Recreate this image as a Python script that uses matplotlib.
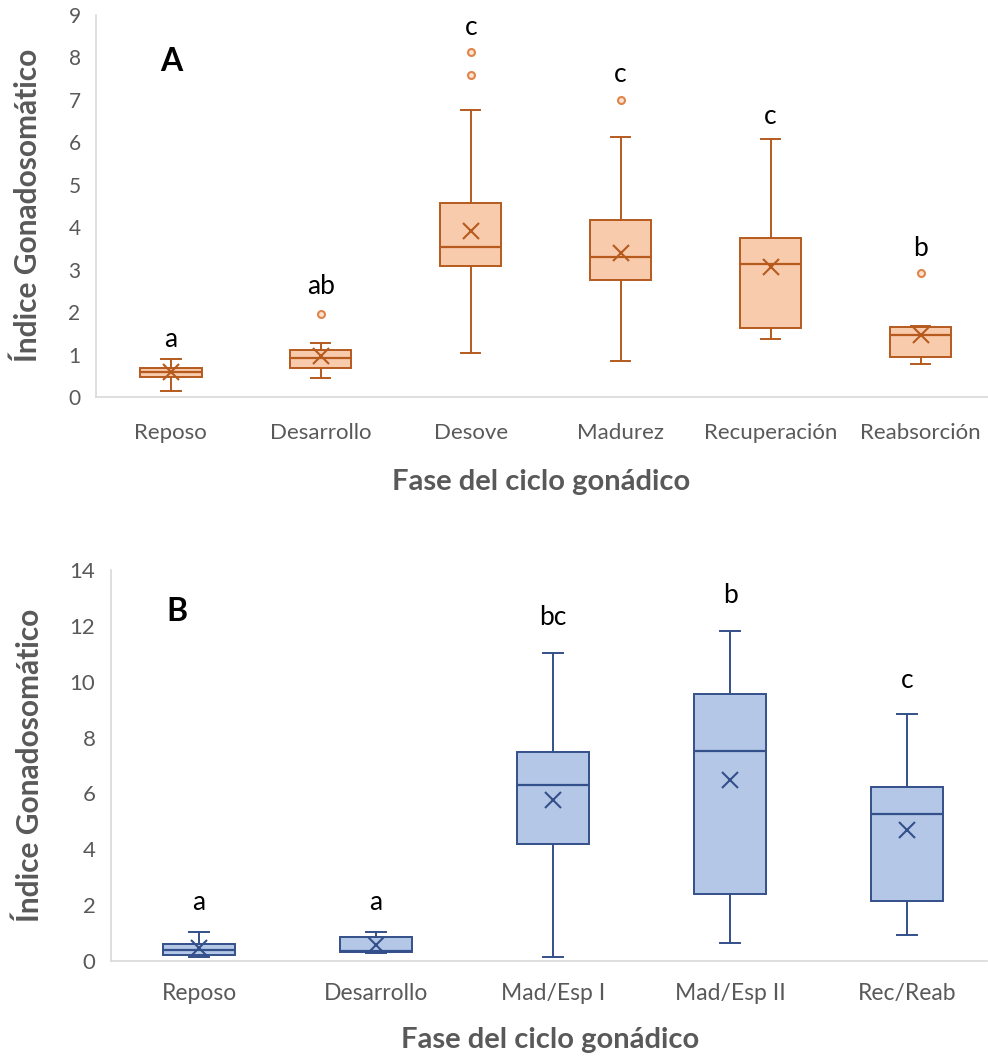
import matplotlib.pyplot as plt
import numpy as np

plt.rcParams['font.family'] = ['Lato', 'DejaVu Sans']

# Panel A - six phases
fases_a = ['Reposo', 'Desarrollo', 'Desove', 'Madurez', 'Recuperación', 'Reabsorción']
whislo_a = [0.14, 0.44, 1.03, 0.86, 1.36, 0.77]
q1_a = [0.47, 0.68, 3.09, 2.76, 1.62, 0.94]
med_a = [0.58, 0.91, 3.54, 3.29, 3.13, 1.45]
q3_a = [0.68, 1.11, 4.56, 4.17, 3.75, 1.66]
whishi_a = [0.90, 1.28, 6.75, 6.12, 6.07, 1.68]
mean_a = [0.58, 0.97, 3.90, 3.40, 3.07, 1.46]
fliers_a = [[], [1.95], [7.59, 8.13], [7.0], [], [2.91]]
letras_a = ['a', 'ab', 'c', 'c', 'c', 'b']
letras_a_y = [1.35, 2.6, 8.7, 7.6, 6.6, 3.5]

# Panel B - five phases
fases_b = ['Reposo', 'Desarrollo', 'Mad/Esp I', 'Mad/Esp II', 'Rec/Reab']
whislo_b = [0.14, 0.26, 0.14, 0.65, 0.91]
q1_b = [0.19, 0.31, 4.18, 2.39, 2.14]
med_b = [0.38, 0.36, 6.29, 7.50, 5.26]
q3_b = [0.60, 0.86, 7.49, 9.57, 6.21]
whishi_b = [1.04, 1.04, 11.04, 11.82, 8.83]
mean_b = [0.44, 0.56, 5.76, 6.48, 4.68]
fliers_b = [[], [], [], [], []]
letras_b = ['a', 'a', 'bc', 'b', 'c']
letras_b_y = [2.1, 2.1, 12.3, 13.1, 10.06]

gris = '#595959'


def stats(whislo, q1, med, q3, whishi, mean, fliers, labels):
    out = []
    for i in range(len(labels)):
        out.append(dict(whislo=whislo[i], q1=q1[i], med=med[i], q3=q3[i],
                        whishi=whishi[i], mean=mean[i], fliers=fliers[i],
                        label=labels[i]))
    return out


def panel(ax, st, fill, edge, flier_c, capw, ymax, ystep, tick_fs, xtick_fs, pad):
    ax.bxp(st, positions=np.arange(len(st)), widths=0.41, patch_artist=True,
           showmeans=True, showfliers=True, capwidths=capw,
           boxprops=dict(facecolor=fill, edgecolor=edge, linewidth=1.4),
           medianprops=dict(color=edge, linewidth=1.6),
           whiskerprops=dict(color=edge, linewidth=1.4),
           capprops=dict(color=edge, linewidth=1.4),
           meanprops=dict(marker='x', markeredgecolor=edge, markersize=11,
                          markeredgewidth=1.5),
           flierprops=dict(marker='o', markersize=5, markerfacecolor='#FBE3D3',
                           markeredgecolor=flier_c, markeredgewidth=1.5))
    ax.set_xlim(-0.5, len(st) - 0.55)
    ax.set_ylim(0, ymax)
    ax.set_yticks(np.arange(0, ymax + 0.1, ystep))
    for s in ['top', 'right']:
        ax.spines[s].set_visible(False)
    for s in ['left', 'bottom']:
        ax.spines[s].set_color('#D9D9D9')
        ax.spines[s].set_linewidth(1.2)
    ax.tick_params(axis='both', length=0, colors=gris)
    ax.tick_params(axis='x', labelsize=xtick_fs, pad=pad)
    ax.tick_params(axis='y', labelsize=tick_fs, pad=11)


fig = plt.figure(figsize=(9.88, 10.61), dpi=100)

ax1 = fig.add_axes([0.097, 0.6258, 0.903, 0.3601])
panel(ax1, stats(whislo_a, q1_a, med_a, q3_a, whishi_a, mean_a, fliers_a, fases_a),
      '#F8CBAD', '#B65A1E', '#E0844A', 0.13, 9, 1, 15, 16, 19)
for i, (t, y) in enumerate(zip(letras_a, letras_a_y)):
    ax1.text(i, y, t, ha='center', va='center', fontsize=19, color='black')
ax1.text(0, 7.9, 'A', ha='center', va='center', fontsize=23, fontweight='bold')

ax2 = fig.add_axes([0.112, 0.0945, 0.8866, 0.3682])
panel(ax2, stats(whislo_b, q1_b, med_b, q3_b, whishi_b, mean_b, fliers_b, fases_b),
      '#B4C7E7', '#34508A', '#34508A', 0.11, 14, 2, 16, 16.5, 16)
for i, (t, y) in enumerate(zip(letras_b, letras_b_y)):
    ax2.text(i, y, t, ha='center', va='center', fontsize=19, color='black')
ax2.text(-0.125, 12.5, 'B', ha='center', va='center', fontsize=23, fontweight='bold')

# axis titles
fig.text(541 / 988, 1 - 482 / 1061, 'Fase del ciclo gonádico', ha='center', va='center',
         fontsize=21, fontweight='bold', color=gris)
fig.text(550 / 988, 1 - 1040 / 1061, 'Fase del ciclo gonádico', ha='center', va='center',
         fontsize=21, fontweight='bold', color=gris)
fig.text(28 / 988, 1 - 205 / 1061, 'Índice Gonadosomático', ha='center', va='center',
         rotation=90, fontsize=21.5, fontweight='bold', color=gris)
fig.text(30 / 988, 1 - 765 / 1061, 'Índice Gonadosomático', ha='center', va='center',
         rotation=90, fontsize=21.5, fontweight='bold', color=gris)

fig.savefig('out.png', dpi=100)
